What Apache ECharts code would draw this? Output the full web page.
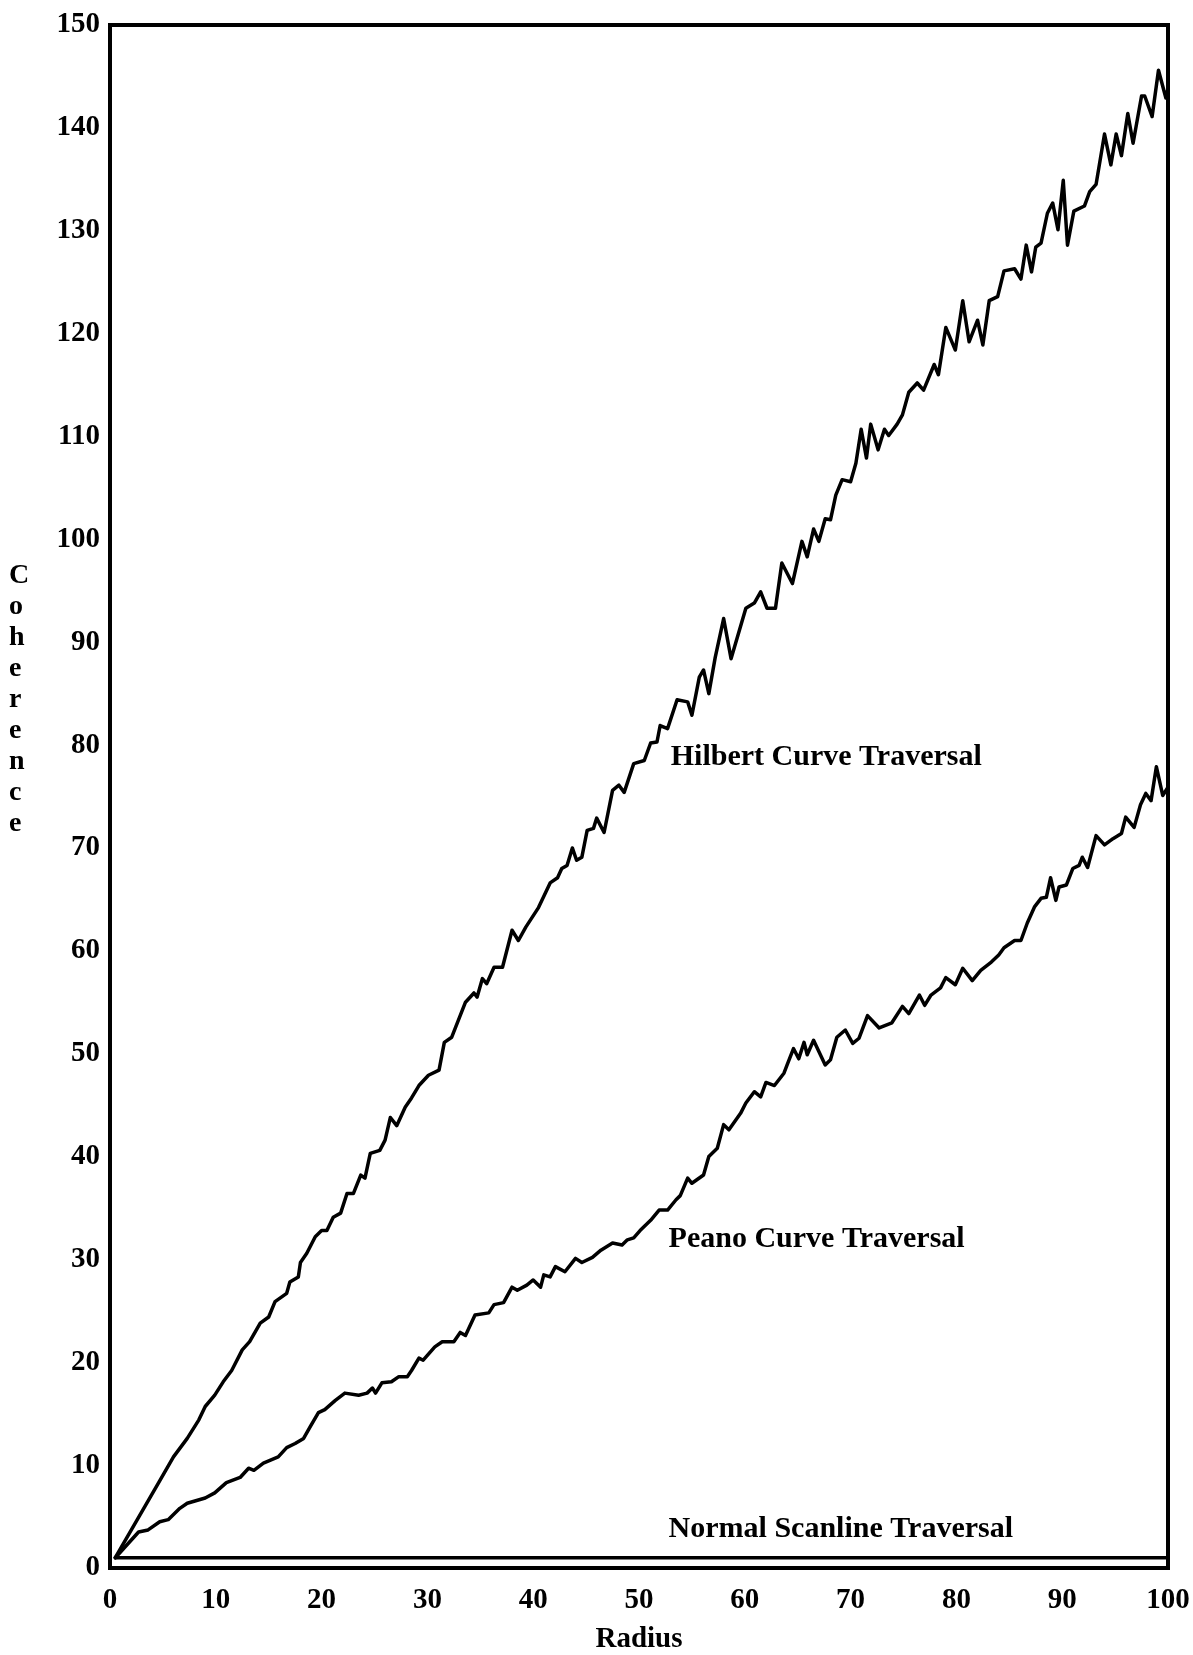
<!DOCTYPE html>
<html>
<head>
<meta charset="utf-8" />
<title>Coherence vs Radius</title>
<script src="https://cdn.jsdelivr.net/npm/echarts@6/dist/echarts.min.js" type="text/javascript" charset="utf-8"></script>
<style>
  html, body { margin: 0; padding: 0; background: #fff; }
</style>
</head>
<body>
<div id="main" style="width: 1193px;height:1655px;"></div>
<script type="text/javascript">
// tick values of both axes
var xTicks = [0, 10, 20, 30, 40, 50, 60, 70, 80, 90, 100];
var yTicks = [0, 10, 20, 30, 40, 50, 60, 70, 80, 90, 100, 110, 120, 130, 140, 150];

// [radius, coherence]
var hilbert = [
  [0.5,1],[4.6,8.3],[6.0,10.8],[7.3,12.6],[8.4,14.4],[9.0,15.7],[9.9,16.8],[10.7,18.1],[11.5,19.2],
  [12.5,21.2],[13.2,22.0],[14.2,23.8],[15.0,24.4],[15.6,25.9],[16.7,26.7],[17.0,27.8],[17.8,28.3],
  [18.0,29.7],[18.6,30.6],[19.4,32.2],[20.0,32.8],[20.5,32.8],[21.1,34.1],[21.8,34.5],[22.4,36.4],
  [23.0,36.4],[23.7,38.2],[24.1,37.9],[24.6,40.3],[25.5,40.6],[26.0,41.6],[26.5,43.8],[27.1,43.0],
  [27.9,44.8],[28.5,45.7],[29.2,46.9],[30.1,47.9],[31.1,48.4],[31.6,51.1],[32.3,51.6],[33.6,55.0],
  [34.4,55.9],[34.7,55.5],[35.2,57.3],[35.6,56.8],[36.3,58.4],[37.1,58.4],[38.0,62.0],[38.6,61.0],
  [39.3,62.3],[40.5,64.2],[41.6,66.6],[42.3,67.1],[42.7,68.0],[43.2,68.3],[43.7,70.0],[44.1,68.8],
  [44.6,69.1],[45.1,71.7],[45.7,71.9],[46.0,72.9],[46.7,71.5],[47.5,75.6],[48.1,76.1],[48.6,75.4],
  [49.5,78.2],[50.5,78.5],[51.1,80.2],[51.7,80.3],[52.0,81.9],[52.7,81.6],[53.6,84.4],[54.6,84.2],
  [55.0,82.9],[55.7,86.6],[56.1,87.3],[56.6,85.0],[57.2,88.5],[58.0,92.3],[58.7,88.4],[60.1,93.3],
  [60.9,93.8],[61.5,94.9],[62.1,93.3],[62.9,93.3],[63.5,97.7],[64.5,95.7],[65.4,99.8],[65.9,98.3],
  [66.5,101.0],[67.0,99.8],[67.6,102.0],[68.1,101.9],[68.6,104.3],[69.2,105.8],[70.0,105.6],
  [70.5,107.4],[71.0,110.7],[71.5,107.9],[71.9,111.2],[72.6,108.7],[73.2,110.7],[73.6,110.1],
  [74.4,111.2],[74.9,112.1],[75.5,114.3],[76.3,115.2],[76.9,114.5],[77.9,117.0],[78.3,116.0],
  [79.0,120.6],[79.9,118.4],[80.6,123.2],[81.2,119.2],[82.0,121.3],[82.5,118.9],[83.1,123.2],
  [83.9,123.6],[84.5,126.1],[85.5,126.3],[86.1,125.3],[86.6,128.6],[87.1,126.0],[87.5,128.4],
  [88.0,128.8],[88.6,131.7],[89.1,132.7],[89.6,130.1],[90.1,134.9],[90.5,128.6],[91.1,131.9],
  [92.1,132.4],[92.6,133.8],[93.2,134.5],[94.0,139.4],[94.6,136.4],[95.1,139.4],[95.6,137.3],
  [96.2,141.4],[96.7,138.5],[97.5,143.1],[97.8,143.1],[98.5,141.1],[99.1,145.6],[99.8,142.9],[100,143.8]
];

var peano = [
  [0.5,1],[2.7,3.5],[3.6,3.7],[4.7,4.5],[5.5,4.7],[6.6,5.8],[7.3,6.3],[9.0,6.8],[9.9,7.3],[11.0,8.3],
  [12.3,8.8],[13.1,9.7],[13.6,9.5],[14.5,10.2],[15.9,10.8],[16.7,11.7],[17.5,12.1],[18.3,12.6],
  [18.9,13.7],[19.7,15.1],[20.3,15.4],[21.3,16.3],[22.2,17.0],[23.5,16.8],[24.3,17.0],[24.8,17.5],
  [25.1,17.0],[25.7,18.0],[26.6,18.1],[27.3,18.6],[28.1,18.6],[28.5,19.2],[29.2,20.4],[29.6,20.2],
  [30.7,21.5],[31.4,22.0],[32.5,22.0],[33.1,22.9],[33.6,22.6],[34.5,24.6],[35.8,24.8],[36.3,25.6],
  [37.2,25.8],[38.0,27.3],[38.5,27.0],[39.4,27.5],[40.0,28.0],[40.7,27.3],[41.0,28.5],[41.6,28.3],
  [42.1,29.3],[43.0,28.8],[44.0,30.1],[44.6,29.7],[45.6,30.2],[46.4,30.9],[47.5,31.6],[48.4,31.4],
  [48.9,31.9],[49.5,32.1],[50.1,32.8],[51.1,33.8],[51.9,34.8],[52.7,34.8],[53.5,35.8],[53.9,36.2],
  [54.6,37.9],[55.0,37.4],[56.1,38.2],[56.6,40.0],[57.4,40.8],[58.0,43.1],[58.5,42.6],[59.6,44.2],
  [60.1,45.2],[60.9,46.3],[61.5,45.8],[62.0,47.2],[62.8,46.9],[63.7,48.1],[64.0,48.9],[64.6,50.5],
  [65.1,49.5],[65.6,51.1],[65.9,49.9],[66.5,51.3],[67.6,48.9],[68.1,49.4],[68.7,51.6],[69.5,52.3],
  [70.2,51.0],[70.8,51.5],[71.6,53.7],[72.7,52.5],[73.9,53.0],[74.9,54.6],[75.5,53.9],[76.5,55.7],
  [77.0,54.7],[77.6,55.7],[78.5,56.4],[79.0,57.4],[79.9,56.7],[80.6,58.3],[81.5,57.1],[82.3,58.1],
  [83.3,58.9],[84.0,59.6],[84.5,60.3],[85.5,61.0],[86.1,61.0],[86.7,62.7],[87.4,64.3],[88.0,65.1],
  [88.5,65.2],[88.9,67.1],[89.4,64.9],[89.7,66.2],[90.4,66.4],[91.0,68.0],[91.6,68.3],[91.9,69.1],
  [92.4,68.1],[93.2,71.2],[94.0,70.3],[94.8,70.9],[95.6,71.4],[96.0,73.0],[96.8,72.0],[97.4,74.2],
  [97.9,75.3],[98.4,74.6],[98.9,77.9],[99.5,75.1],[100,75.9]
];

var scanline = [[0.5, 1], [100, 1]];

// curve names and where their labels sit (data coords, left edge of text)
var curveNames = ['Hilbert Curve Traversal', 'Peano Curve Traversal', 'Normal Scanline Traversal'];
var labelAt = [[53, 78.8], [52.8, 32.0], [52.8, 3.8]];

var FONT = '"Liberation Serif", "Times New Roman", serif';

var dom = document.getElementById("main");
var myChart = echarts.init(dom);

function lineSeries(name, data) {
  return {
    name: name,
    type: 'line',
    data: data,
    showSymbol: false,
    symbol: 'none',
    smooth: false,
    silent: true,
    lineStyle: { color: '#000', width: 3.5, join: 'round', cap: 'round' }
  };
}

var labelData = [];
for (var i = 0; i < curveNames.length; i++) {
  labelData.push({ value: labelAt[i], name: curveNames[i] });
}

var option = {
  backgroundColor: '#fff',
  animation: false,
  grid: {
    left: 110, right: 25, top: 25, bottom: 87,
    outerBoundsMode: 'none',
    show: true, borderColor: '#000', borderWidth: 4, backgroundColor: 'transparent'
  },
  xAxis: {
    type: 'value',
    min: xTicks[0], max: xTicks[xTicks.length - 1], interval: 10,
    name: 'Radius', nameLocation: 'middle', nameGap: 57,
    nameTextStyle: { fontFamily: FONT, fontWeight: 'bold', fontSize: 29, color: '#000' },
    axisLine: { show: true, lineStyle: { color: '#000', width: 4 } },
    axisTick: { show: false },
    splitLine: { show: false },
    axisLabel: { margin: 18, fontFamily: FONT, fontWeight: 'bold', fontSize: 29, color: '#000' }
  },
  yAxis: {
    type: 'value',
    min: yTicks[0], max: yTicks[yTicks.length - 1], interval: 10,
    axisLine: { show: true, lineStyle: { color: '#000', width: 4 } },
    axisTick: { show: false },
    splitLine: { show: false },
    axisLabel: { margin: 10, fontFamily: FONT, fontWeight: 'bold', fontSize: 29, color: '#000' }
  },
  graphic: [{
    type: 'text',
    left: 9, top: 560,
    style: {
      text: 'C\no\nh\ne\nr\ne\nn\nc\ne',
      font: 'bold 28px ' + FONT,
      lineHeight: 31,
      align: 'center',
      fill: '#000'
    }
  }],
  series: [
    lineSeries('Hilbert', hilbert),
    lineSeries('Peano', peano),
    lineSeries('Scanline', scanline),
    {
      type: 'scatter',
      data: labelData,
      symbolSize: 0,
      silent: true,
      itemStyle: { color: '#000' },
      label: {
        show: true,
        position: [0, 0],
        align: 'left',
        verticalAlign: 'middle',
        formatter: '{b}',
        fontFamily: FONT, fontWeight: 'bold', fontSize: 30,
        color: '#000', textBorderWidth: 0, opacity: 1
      }
    }
  ]
};
myChart.setOption(option);
</script>
</body>
</html>
